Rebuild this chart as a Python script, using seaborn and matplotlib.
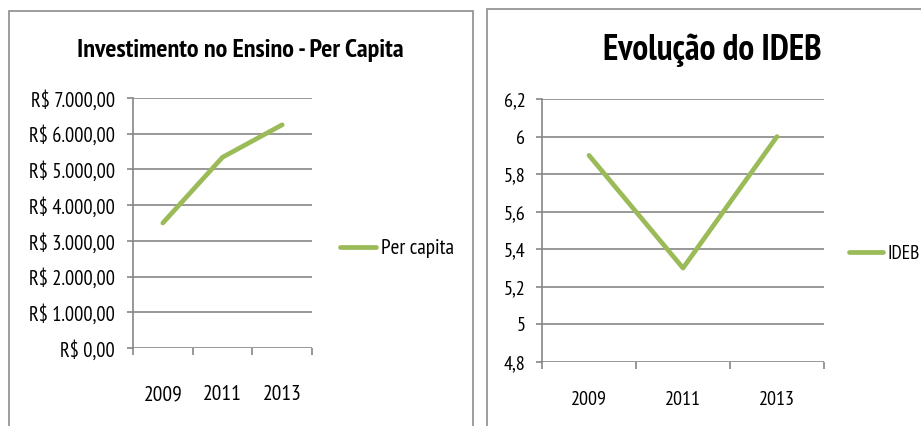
import matplotlib
matplotlib.use("Agg")
import matplotlib.pyplot as plt
import seaborn as sns
import pandas as pd
from matplotlib.patches import Rectangle
from matplotlib import font_manager as fm

sns.set_theme(style="white")
installed = {f.name for f in fm.fontManager.ttflist}
FONT = next((f for f in ["PT Sans Narrow", "Open Sans Condensed", "Roboto Condensed", "Archivo Narrow"]
             if f in installed), "DejaVu Sans")
plt.rcParams['font.family'] = [FONT, 'DejaVu Sans']

years = ["2009", "2011", "2013"]
per_capita = [3500, 5340, 6250]
ideb = [5.9, 5.3, 6.0]
left_yticks = [0, 1000, 2000, 3000, 4000, 5000, 6000, 7000]
left_ylabels = ["R$ 0,00", "R$ 1.000,00", "R$ 2.000,00", "R$ 3.000,00",
                "R$ 4.000,00", "R$ 5.000,00", "R$ 6.000,00", "R$ 7.000,00"]
right_yticks = [4.8, 5.0, 5.2, 5.4, 5.6, 5.8, 6.0, 6.2]
right_ylabels = ["4,8", "5", "5,2", "5,4", "5,6", "5,8", "6", "6,2"]

W, H = 921, 426
fig = plt.figure(figsize=(W / 100, H / 100), dpi=100)
fig.patch.set_facecolor("white")

GREEN = "#9BBB59"
GRID = "#868686"

def px_axes(x0, y0, x1, y1):
    return fig.add_axes([x0 / W, 1 - y1 / H, (x1 - x0) / W, (y1 - y0) / H])

# panel borders
fig.add_artist(Rectangle((9 / W, 1 - 440 / H), 464 / W, 429 / H, transform=fig.transFigure,
                         fill=False, edgecolor="#8c8c8c", linewidth=1.2))
fig.add_artist(Rectangle((487 / W, 1 - 440 / H), 460 / W, 431 / H, transform=fig.transFigure,
                         fill=False, edgecolor="#8c8c8c", linewidth=1.2))

def style_axes(ax, yticks, ylabels, ylim, tick_fs, x_fs, xpad, ypad):
    ax.set_xlim(-0.5, 2.5)
    ax.set_ylim(*ylim)
    ax.set_yticks(yticks)
    ax.set_yticklabels(ylabels, fontsize=tick_fs, color="black")
    ax.set_xticks([-0.5, 0.5, 1.5, 2.5])
    ax.set_xticklabels([])
    ax.set_xticks([0, 1, 2], minor=True)
    ax.set_xticklabels(years, minor=True, fontsize=x_fs, color="black")
    ax.tick_params(axis="x", which="major", length=5, width=1.2, color=GRID, direction="out", bottom=True)
    ax.tick_params(axis="x", which="minor", length=0, pad=xpad)
    ax.tick_params(axis="y", length=4, width=1.2, color=GRID, direction="out", left=True, pad=ypad)
    for s in ["top", "right", "bottom"]:
        ax.spines[s].set_visible(False)
    ax.spines["left"].set_color(GRID)
    ax.spines["left"].set_linewidth(1.2)
    ax.grid(axis="y", color=GRID, linewidth=1.2)
    ax.set_axisbelow(True)
    ax.set_xlabel("")
    ax.set_ylabel("")
    ax.set_facecolor("white")

# left chart
ax1 = px_axes(133, 98, 312, 348)
df1 = pd.DataFrame({"Ano": years, "Per capita": per_capita})
sns.lineplot(data=df1, x="Ano", y="Per capita", ax=ax1, color=GREEN, linewidth=3.4,
             label="Per capita", sort=False)
style_axes(ax1, left_yticks, left_ylabels, (0, 7000), 14.8, 15.5, 27, 9)
ax1.legend(loc="center left", bbox_to_anchor=(1.156, 0.396), frameon=False, fontsize=15.3,
           handlelength=1.7, handletextpad=0.25, borderpad=0, borderaxespad=0,
           labelcolor="black")
fig.text(240 / W, 1 - 50 / H, "Investimento no Ensino - Per Capita", ha="center", va="center",
         fontsize=18.8, fontweight="bold", color="black")

# right chart
ax2 = px_axes(542, 99, 824, 362)
df2 = pd.DataFrame({"Ano": years, "IDEB": ideb})
sns.lineplot(data=df2, x="Ano", y="IDEB", ax=ax2, color=GREEN, linewidth=3.4,
             label="IDEB", sort=False)
style_axes(ax2, right_yticks, right_ylabels, (4.8, 6.2), 14.5, 14.5, 21, 8)
ax2.legend(loc="center left", bbox_to_anchor=(1.089, 0.41), frameon=False, fontsize=14,
           handlelength=1.75, handletextpad=0.25, borderpad=0, borderaxespad=0,
           labelcolor="black")
fig.text(712 / W, 1 - 50 / H, "Evolução do IDEB", ha="center", va="center",
         fontsize=25.6, fontweight="bold", color="black")

fig.savefig("out.png", dpi=100, facecolor="white")
